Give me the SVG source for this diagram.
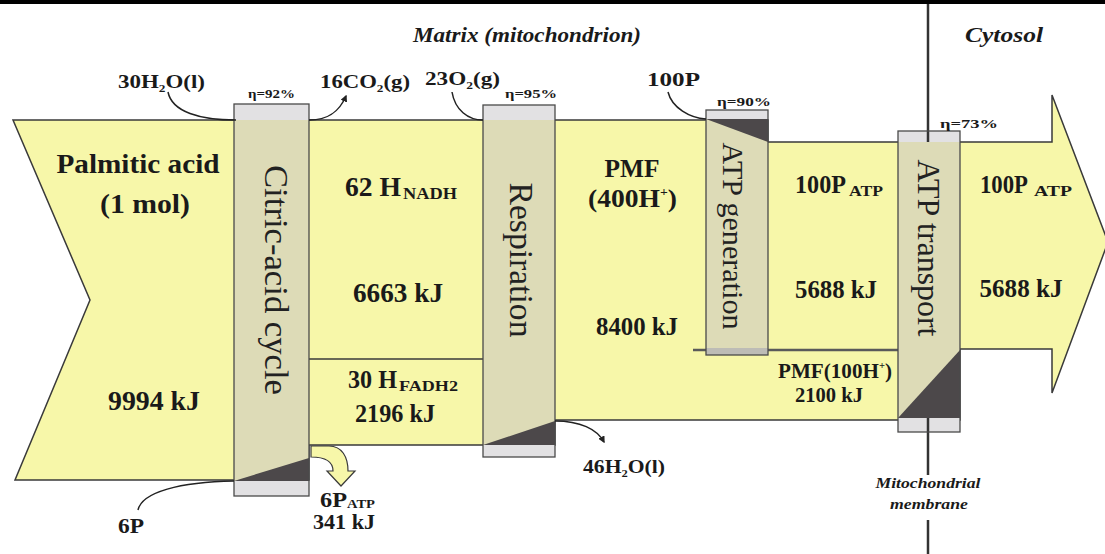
<svg xmlns="http://www.w3.org/2000/svg" width="1105" height="554" viewBox="0 0 1105 554">
<defs>
<style>
.flow{fill:#f7f7a9;stroke:#3a3a3a;stroke-width:1.5;stroke-linejoin:miter}
.box{fill:#dddbb7}
.frame{fill:none;stroke:#4a4a4a;stroke-width:1.3}
.cap{fill:#e2e1e3}
.loss{fill:#4c484a}
.b{font-family:"Liberation Serif",serif;font-weight:bold;fill:#1a1a1a}
.bi{font-family:"Liberation Serif",serif;font-weight:bold;font-style:italic;fill:#1a1a1a}
.lab{font-family:"Liberation Serif",serif;fill:#222}
.conn{fill:none;stroke:#222;stroke-width:1.5}
.mem{stroke:#333;stroke-width:2.5}
</style>
<marker id="ah" viewBox="0 0 10 10" refX="8" refY="5" markerWidth="7" markerHeight="7" orient="auto" markerUnits="userSpaceOnUse">
<path d="M0,0 L10,5 L0,10 Z" fill="#222"/>
</marker>
</defs>
<rect x="0" y="0" width="1105" height="4" fill="#000"/>

<g id="flow">
<path class="flow" d="M13,120 H768 V142 H1052 V95 L1108,242 L1052,393 V349 H960 V420 H555 V445 H309 V480 H15 L90,300 Z"/>
<line x1="309" y1="359" x2="483" y2="359" stroke="#3a3a3a" stroke-width="1.5"/>
<line x1="693" y1="350" x2="898" y2="350" stroke="#5a5a5a" stroke-width="2.5"/>
<path d="M311,446 L329,446 C342,446 348,457 348,471 L355,471 L341,486 L327,471 L333,471 C333,462 327,457 311,457 Z" fill="#f7f7a9" stroke="#3a3a3a" stroke-width="1.2"/>
</g>

<g id="membrane">
<line class="mem" x1="928" y1="4" x2="928" y2="142"/>
<line class="mem" x1="928" y1="418" x2="928" y2="475"/>
<line class="mem" x1="928" y1="520" x2="928" y2="554"/>
</g>

<g id="citric">
<rect class="box" x="234" y="104" width="75" height="392"/>
<polygon class="loss" points="234,481 309,458 309,481"/>
<rect class="cap" x="234" y="104" width="75" height="16"/>
<rect class="cap" x="234" y="481" width="75" height="15"/>
<rect class="frame" x="234" y="104" width="75" height="392"/>
<text class="lab" transform="translate(265,280) rotate(90)" text-anchor="middle" font-size="34" textLength="230" lengthAdjust="spacingAndGlyphs">Citric-acid cycle</text>
</g>

<g id="respiration">
<rect class="box" x="483" y="105" width="72" height="352"/>
<polygon class="loss" points="483,445 555,421 555,445"/>
<rect class="cap" x="483" y="105" width="72" height="15"/>
<rect class="cap" x="483" y="445" width="72" height="12"/>
<rect class="frame" x="483" y="105" width="72" height="352"/>
<text class="lab" transform="translate(510,260) rotate(90)" text-anchor="middle" font-size="33" textLength="155" lengthAdjust="spacingAndGlyphs">Respiration</text>
</g>

<g id="atpgen">
<rect class="box" x="706" y="110" width="62" height="245"/>
<rect class="cap" x="706" y="110" width="62" height="9"/>
<polygon class="loss" points="706,119 768,119 768,142"/>
<rect x="706" y="348" width="62" height="7" fill="#bdbcb6"/>
<rect class="frame" x="706" y="110" width="62" height="245"/>
<text class="lab" transform="translate(723,236) rotate(90)" text-anchor="middle" font-size="30" textLength="187" lengthAdjust="spacingAndGlyphs">ATP generation</text>
</g>

<g id="atptransport">
<rect class="box" x="898" y="131" width="62" height="301"/>
<rect class="cap" x="898" y="131" width="62" height="11"/>
<polygon class="loss" points="898,418 960,350 960,418"/>
<rect class="cap" x="898" y="418" width="62" height="14"/>
<line class="mem" x1="928" y1="131" x2="928" y2="142"/>
<line class="mem" x1="928" y1="418" x2="928" y2="432"/>
<rect class="frame" x="898" y="131" width="62" height="301"/>
<text class="lab" transform="translate(918,248) rotate(90)" text-anchor="middle" font-size="31" textLength="177" lengthAdjust="spacingAndGlyphs">ATP transport</text>
</g>

<g id="connectors">
<path class="conn" d="M168,92 C172,112 200,120 236,120"/>
<path class="conn" d="M309,120 C330,120 340,110 346,96" marker-end="url(#ah)"/>
<path class="conn" d="M452,92 C455,110 468,120 483,120"/>
<path class="conn" d="M668,92 C672,108 690,118 706,119"/>
<path class="conn" d="M555,421 C580,421 597,429 604,442" marker-end="url(#ah)"/>
<path class="conn" d="M138,510 C142,492 180,482 234,481"/>
</g>

<g id="labels">
<text class="bi" x="527" y="42" text-anchor="middle" font-size="20" textLength="228" lengthAdjust="spacingAndGlyphs">Matrix (mitochondrion)</text>
<text class="bi" x="1004" y="42" text-anchor="middle" font-size="20" textLength="78" lengthAdjust="spacingAndGlyphs">Cytosol</text>
<text class="bi" x="928" y="488" text-anchor="middle" font-size="15" textLength="105" lengthAdjust="spacingAndGlyphs">Mitochondrial</text>
<text class="bi" x="929" y="509" text-anchor="middle" font-size="15" textLength="78" lengthAdjust="spacingAndGlyphs">membrane</text>

<text class="b" x="118" y="88" font-size="19" textLength="87" lengthAdjust="spacingAndGlyphs">30H<tspan font-size="11" dy="4">2</tspan><tspan dy="-4">O(l)</tspan></text>
<text class="b" x="248" y="98" font-size="13" textLength="47" lengthAdjust="spacingAndGlyphs">η=92%</text>
<text class="b" x="320" y="88" font-size="19" textLength="90" lengthAdjust="spacingAndGlyphs">16CO<tspan font-size="11" dy="4">2</tspan><tspan dy="-4">(g)</tspan></text>
<text class="b" x="425" y="85" font-size="19" textLength="75" lengthAdjust="spacingAndGlyphs">23O<tspan font-size="11" dy="4">2</tspan><tspan dy="-4">(g)</tspan></text>
<text class="b" x="505" y="98" font-size="13" textLength="52" lengthAdjust="spacingAndGlyphs">η=95%</text>
<text class="b" x="647" y="86" font-size="19" textLength="53" lengthAdjust="spacingAndGlyphs">100P</text>
<text class="b" x="717" y="106" font-size="13" textLength="54" lengthAdjust="spacingAndGlyphs">η=90%</text>
<text class="b" x="940" y="128" font-size="13" textLength="58" lengthAdjust="spacingAndGlyphs">η=73%</text>

<text class="b" x="138" y="173" text-anchor="middle" font-size="27" textLength="163" lengthAdjust="spacingAndGlyphs">Palmitic acid</text>
<text class="b" x="145" y="213" text-anchor="middle" font-size="27" textLength="90" lengthAdjust="spacingAndGlyphs">(1 mol)</text>
<text class="b" x="154" y="410" text-anchor="middle" font-size="27" textLength="92" lengthAdjust="spacingAndGlyphs">9994 kJ</text>

<text class="b" x="345" y="196" font-size="27" textLength="56" lengthAdjust="spacingAndGlyphs">62 H</text>
<text class="b" x="403" y="199" font-size="17" textLength="54" lengthAdjust="spacingAndGlyphs">NADH</text>
<text class="b" x="398" y="302" text-anchor="middle" font-size="27" textLength="90" lengthAdjust="spacingAndGlyphs">6663 kJ</text>
<text class="b" x="348" y="388" font-size="25" textLength="49" lengthAdjust="spacingAndGlyphs">30 H</text>
<text class="b" x="399" y="391" font-size="15" textLength="59" lengthAdjust="spacingAndGlyphs">FADH2</text>
<text class="b" x="395" y="422" text-anchor="middle" font-size="25" textLength="80" lengthAdjust="spacingAndGlyphs">2196 kJ</text>

<text class="b" x="632" y="177" text-anchor="middle" font-size="26" textLength="55" lengthAdjust="spacingAndGlyphs">PMF</text>
<text class="b" x="588" y="207" font-size="26" textLength="89" lengthAdjust="spacingAndGlyphs">(400H<tspan font-size="13" dy="-11">+</tspan><tspan dy="11">)</tspan></text>
<text class="b" x="637" y="335" text-anchor="middle" font-size="26" textLength="82" lengthAdjust="spacingAndGlyphs">8400 kJ</text>

<text class="b" x="795" y="193" font-size="26" textLength="51" lengthAdjust="spacingAndGlyphs">100P</text>
<text class="b" x="849" y="196" font-size="15" textLength="34" lengthAdjust="spacingAndGlyphs">ATP</text>
<text class="b" x="836" y="298" text-anchor="middle" font-size="26" textLength="82" lengthAdjust="spacingAndGlyphs">5688 kJ</text>
<text class="b" x="778" y="378" font-size="20" textLength="114" lengthAdjust="spacingAndGlyphs">PMF(100H<tspan font-size="10" dy="-9">+</tspan><tspan dy="9">)</tspan></text>
<text class="b" x="829" y="402" text-anchor="middle" font-size="20" textLength="68" lengthAdjust="spacingAndGlyphs">2100 kJ</text>

<text class="b" x="980" y="193" font-size="26" textLength="48" lengthAdjust="spacingAndGlyphs">100P</text>
<text class="b" x="1034" y="196" font-size="15" textLength="38" lengthAdjust="spacingAndGlyphs">ATP</text>
<text class="b" x="1021" y="297" text-anchor="middle" font-size="26" textLength="83" lengthAdjust="spacingAndGlyphs">5688 kJ</text>

<text class="b" x="320" y="507" font-size="20" textLength="55" lengthAdjust="spacingAndGlyphs">6P<tspan font-size="12" dy="1">ATP</tspan></text>
<text class="b" x="344" y="529" text-anchor="middle" font-size="20" textLength="62" lengthAdjust="spacingAndGlyphs">341 kJ</text>
<text class="b" x="131" y="533" text-anchor="middle" font-size="20" textLength="26" lengthAdjust="spacingAndGlyphs">6P</text>
<text class="b" x="583" y="473" font-size="19" textLength="82" lengthAdjust="spacingAndGlyphs">46H<tspan font-size="11" dy="4">2</tspan><tspan dy="-4">O(l)</tspan></text>
</g>
</svg>
